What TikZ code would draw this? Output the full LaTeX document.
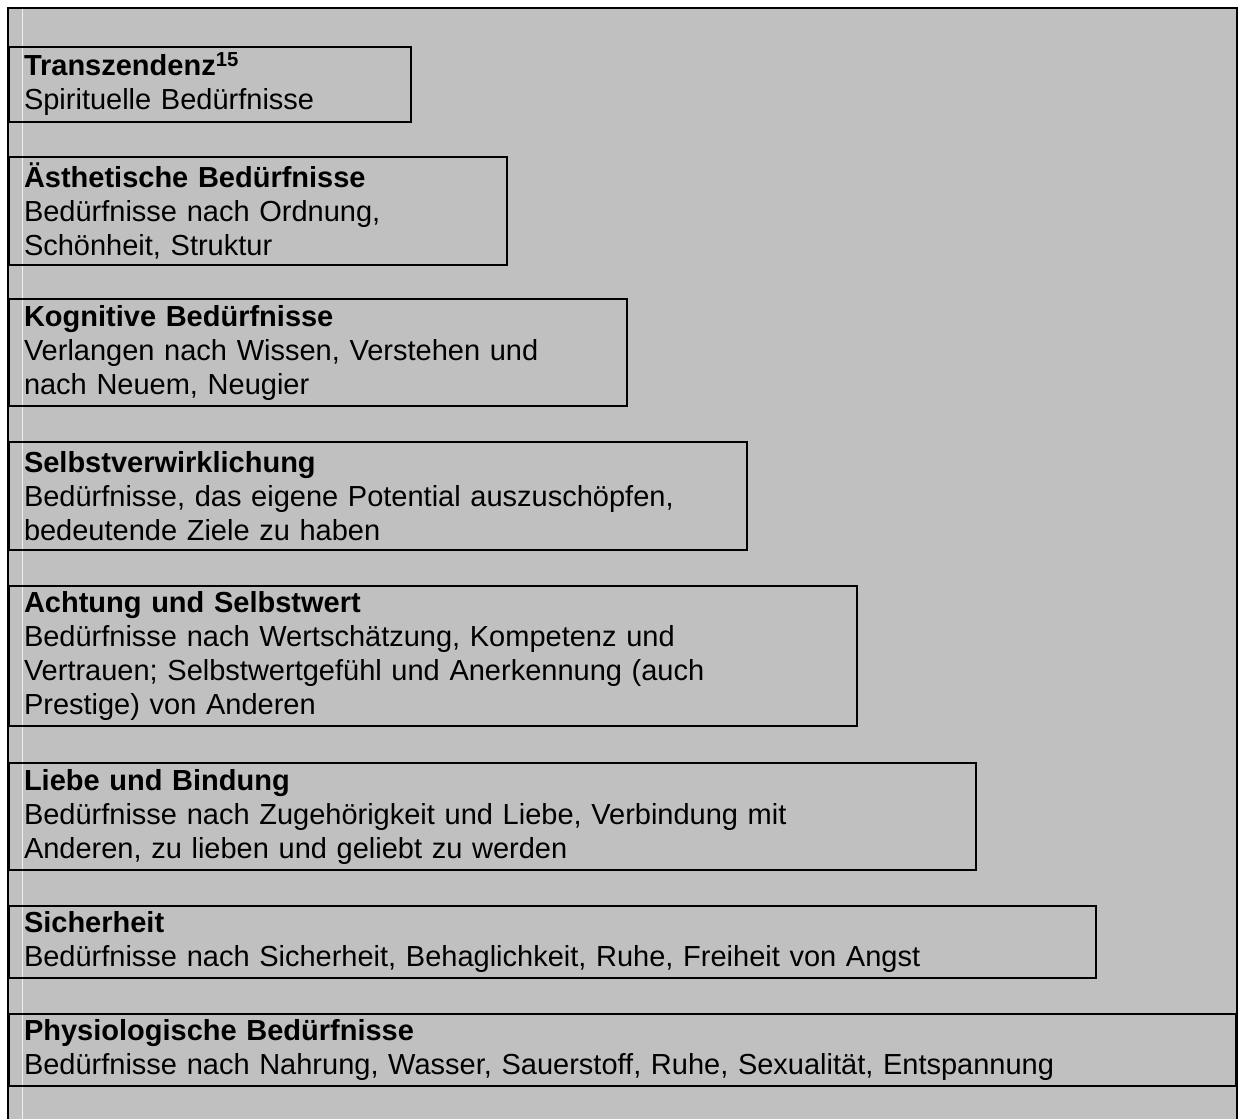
\documentclass[tikz,border=0pt]{standalone}
\usepackage{fontspec}
\setmainfont{Liberation Sans}
\definecolor{bggrey}{RGB}{192,192,192}

\begin{document}
\begin{tikzpicture}[x=1pt,y=1pt,
		level/.style={draw=black, line width=2pt, anchor=north west, align=left,
			inner xsep=15pt, inner ysep=0pt, font=\fontsize{29}{34}\selectfont}]
		\useasboundingbox (0,0) rectangle (1243,-1119);
		\fill [bggrey] (8,-8) rectangle (1237,-1119);
		\draw [gray!12, line width=0.8pt] (22.5,-8) -- (22.5,-1119);
		\draw [black, line width=2.5pt] (8,-1119) -- (8,-8) -- (1237,-8) -- (1237,-1119);
		% levels, top to bottom
		\node [level, text width=372, minimum height=75] (trans) at (8,-46)
			{\textbf{Transzendenz\textsuperscript{15}}\\Spirituelle Bedürfnisse};
		\node [level, text width=468, minimum height=108] (aesth) at (8,-156)
			{\textbf{Ästhetische Bedürfnisse}\\Bedürfnisse nach Ordnung,\\Schönheit, Struktur};
		\node [level, text width=588, minimum height=107] (kogn) at (8,-298)
			{\textbf{Kognitive Bedürfnisse}\\Verlangen nach Wissen, Verstehen und\\nach Neuem, Neugier};
		\node [level, text width=708, minimum height=108] (selbst) at (8,-441)
			{\textbf{Selbstverwirklichung}\\Bedürfnisse, das eigene Potential auszuschöpfen,\\bedeutende Ziele zu haben};
		\node [level, text width=818, minimum height=140] (achtung) at (8,-585)
			{\textbf{Achtung und Selbstwert}\\Bedürfnisse nach Wertschätzung, Kompetenz und\\Vertrauen; Selbstwertgefühl und Anerkennung (auch\\Prestige) von Anderen};
		\node [level, text width=937, minimum height=107] (liebe) at (8,-762)
			{\textbf{Liebe und Bindung}\\Bedürfnisse nach Zugehörigkeit und Liebe, Verbindung mit\\Anderen, zu lieben und geliebt zu werden};
		\node [level, text width=1057, minimum height=72] (sicher) at (8,-905)
			{\textbf{Sicherheit}\\Bedürfnisse nach Sicherheit, Behaglichkeit, Ruhe, Freiheit von Angst};
		\node [level, text width=1197, minimum height=72] (physio) at (8,-1013)
			{\textbf{Physiologische Bedürfnisse}\\Bedürfnisse nach Nahrung, Wasser, Sauerstoff, Ruhe, Sexualität, Entspannung};
\end{tikzpicture}
\end{document}
